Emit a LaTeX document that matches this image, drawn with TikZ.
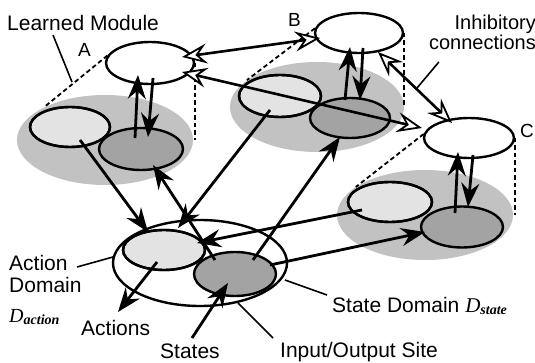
\documentclass[tikz,border=0pt]{standalone}
\usepackage{fontspec}
\setmainfont{Liberation Sans}
\newfontfamily\seriffam{Liberation Serif}
\usetikzlibrary{arrows.meta,shapes.geometric}
\tikzset{
  ell/.style={ellipse, inner sep=0pt, draw, line width=2.4pt},
  gbig/.style={ellipse, inner sep=0pt, fill=black!24},
  lightfill/.style={fill=black!11},
  darkfill/.style={fill=black!36},
  dsh/.style={line width=1.8pt, dash pattern=on 4.5pt off 3pt},
  arr/.style={line width=2.8pt, -{Stealth[length=24pt,width=18pt,inset=8pt]}},
  inh/.style={line width=2.6pt, {Stealth[length=25pt,width=20pt,inset=9pt,fill=white,line width=1.8pt]}-{Stealth[length=25pt,width=20pt,inset=9pt,fill=white,line width=1.8pt]}},
  ptr/.style={line width=1.6pt},
  lbl/.style={font=\fontsize{21}{23}\selectfont, inner sep=0pt, anchor=base west},
  letter/.style={font=\fontsize{19}{20}\selectfont, inner sep=0pt, anchor=base west}
}
\begin{document}
\begin{tikzpicture}[x=1pt,y=-1pt]
\useasboundingbox (0,0) rectangle (535,363);
% gray module bases
\node[gbig, minimum width=176pt, minimum height=90pt] (AG) at (105,140) {};
\node[gbig, minimum width=174pt, minimum height=90pt] (BG) at (317,107) {};
\node[gbig, minimum width=176pt, minimum height=90pt] (CG) at (425,215) {};
% inner ellipses
\node[ell, lightfill, minimum width=80pt, minimum height=40pt] (AL) at (70,127) {};
\node[ell, darkfill, minimum width=84pt, minimum height=42pt] (AD) at (141,149) {};
\node[ell, minimum width=80pt, minimum height=40pt] at (AL) {};
\node[ell, lightfill, minimum width=82pt, minimum height=42pt] (BL) at (280,96) {};
\node[ell, darkfill, minimum width=80pt, minimum height=40pt] (BD) at (350,118) {};
\node[ell, minimum width=82pt, minimum height=42pt] at (BL) {};
\node[ell, lightfill, minimum width=84pt, minimum height=40pt] (CL) at (390,202) {};
\node[ell, darkfill, minimum width=82pt, minimum height=41pt] (CD) at (462,227) {};
\node[ell, minimum width=84pt, minimum height=40pt] at (CL) {};
% top ellipses
\node[ell, fill=white, minimum width=88pt, minimum height=42pt] (AT) at (150,63) {};
\node[ell, fill=white, minimum width=88pt, minimum height=40pt] (BT) at (359,33) {};
\node[ell, fill=white, minimum width=90pt, minimum height=40pt] (CT) at (469,138) {};
% input/output site
\node[ell, fill=white, minimum width=174pt, minimum height=86pt] (IO) at (200,263) {};
\node[ell, lightfill, minimum width=82pt, minimum height=40pt] (ACT) at (164,250) {};
\node[ell, darkfill, minimum width=82pt, minimum height=44pt] (ST) at (235,274) {};
\node[ell, minimum width=82pt, minimum height=40pt] at (ACT) {};
% dashed projection lines
\draw[dsh] (AT.170) -- (AG.152);
\draw[dsh] (AT.east) -- (AT.east |- AG.east);
\draw[dsh] (BT.174) -- (BG.159);
\draw[dsh] (BT.east) -- (BT.east |- BG.east);
\draw[dsh] (CT.175) -- (CG.158);
\draw[dsh] (CT.east) -- (CT.east |- CG.east);
% labels
\node[lbl] (lm) at (7,31) {Learned Module};
\node[letter] (la) at (78,57) {A};
\node[letter] (lb) at (288,27) {B};
\node[letter] (lc) at (520,138) {C};
\node[lbl, font=\fontsize{20}{22}\selectfont, anchor=base east] (inh1) at (536,30) {Inhibitory};
\node[lbl, font=\fontsize{20}{22}\selectfont, anchor=base east] (inh2) at (536,50) {connections};
\node[lbl] (lact) at (9,270) {Action};
\node[lbl] (ldom) at (9,292) {Domain};
\node[inner sep=0pt, anchor=base west] (ldact) at (9,322) {\seriffam\itshape\fontsize{20}{20}\selectfont D\raisebox{-2pt}{\bfseries\fontsize{14}{14}\selectfont action}};
\node[lbl] (actions) at (81,335) {Actions};
\node[lbl] (states) at (160,358) {States};
\node[lbl] (lsd) at (332,312) {State Domain \seriffam\itshape\fontsize{21}{21}\selectfont D\raisebox{-2pt}{\bfseries\fontsize{14}{14}\selectfont state}};
\node[lbl] (lio) at (280,357) {Input/Output Site};
% pointer lines
\coordinate (lmend) at (72,82);
\coordinate (connend) at (417,88);
\coordinate (actend) at (113,257);
\coordinate (sdend) at (285,280);
\coordinate (ioend) at (238,303);
\draw[ptr] ([shift={(46,4)}]lm.base west) -- (lmend);
\draw[ptr] ([shift={(10,12)}]inh2.base west) -- (connend);
\draw[ptr] ([shift={(68,-3)}]lact.base west) -- (actend);
\draw[ptr] ([shift={(-5,-17)}]lsd.base west) -- (sdend);
\draw[ptr] ([shift={(-7,-19)}]lio.base west) -- (ioend);
% vertical module arrows
\draw[arr] ([shift={(-6,-11)}]AD.center) -- ([shift={(-12,12)}]AT.center);
\draw[arr] ([shift={(3,15)}]AT.center) -- ([shift={(7,-12)}]AD.center);
\draw[arr] ([shift={(-5,-18)}]BD.center) -- ([shift={(-9,14)}]BT.center);
\draw[arr] ([shift={(4,15)}]BT.center) -- ([shift={(10,-18)}]BD.center);
\draw[arr] ([shift={(-7,-14)}]CD.center) -- ([shift={(-11,14)}]CT.center);
\draw[arr] ([shift={(4,17)}]CT.center) -- ([shift={(6,-20)}]CD.center);
% module <-> input/output arrows
\draw[arr] ([shift={(10,13)}]AL.center) -- ([shift={(-16,-18)}]ACT.center);
\draw[arr] ([shift={(-20,-14)}]ST.center) -- ([shift={(12,16)}]AD.center);
\draw[arr] ([shift={(-10,14)}]BL.center) -- ([shift={(14,-22)}]ACT.center);
\draw[arr] ([shift={(18,-14)}]ST.center) -- ([shift={(-10,19)}]BD.center);
\draw[arr] ([shift={(-28,8)}]CL.center) -- ([shift={(33,-7)}]ACT.center);
\draw[arr] ([shift={(35,-9)}]ST.center) -- ([shift={(-37,5)}]CD.center);
\draw[arr] ([shift={(-7,12)}]ACT.center) -- ([shift={(37,-23)}]actions.base west);
\draw[arr] ([shift={(32,-20)}]states.base west) -- ([shift={(-7,9)}]ST.center);
% inhibitory connections
\draw[inh] ([shift={(32,-6)}]AT.center) -- ([shift={(-39,5)}]BT.center);
\draw[inh] ([shift={(32,9)}]AT.center) -- ([shift={(-47,-10)}]CT.center);
\draw[inh] ([shift={(19,19)}]BT.center) -- ([shift={(-17,-15)}]CT.center);
\end{tikzpicture}
\end{document}
